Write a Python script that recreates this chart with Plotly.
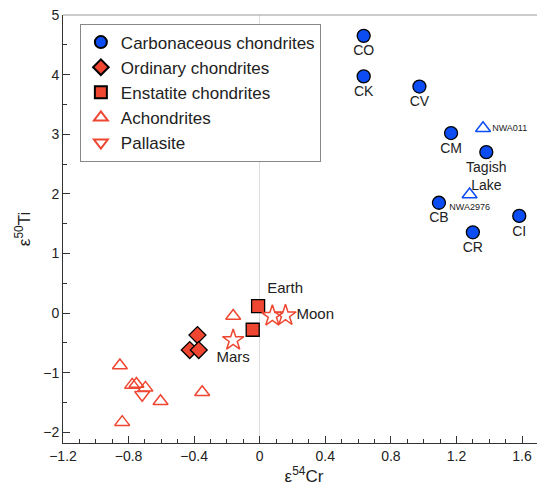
import plotly.graph_objects as go

BLUE = "#0B4DF2"
RED = "#EE4630"
FONT = "Liberation Sans, Arial, sans-serif"

# Carbonaceous chondrites
cc_x = [0.634, 0.634, 0.974, 1.167, 1.382, 1.093, 1.300, 1.583]
cc_y = [4.65, 3.97, 3.80, 3.02, 2.70, 1.85, 1.355, 1.63]
cc_names = ["CO", "CK", "CV", "CM", "Tagish<br>Lake", "CB", "CR", "CI"]

# Ordinary chondrites
oc_x = [-0.38, -0.427, -0.372]
oc_y = [-0.37, -0.62, -0.62]

# Enstatite chondrites (first one is Earth)
ec_x = [-0.01, -0.043]
ec_y = [0.117, -0.28]
earth_label = "Earth"

# Achondrites (red)
ach_x = [-0.162, -0.853, -0.778, -0.752, -0.697, -0.605, -0.351, -0.839]
ach_y = [-0.05, -0.88, -1.205, -1.19, -1.255, -1.48, -1.33, -1.83]

# Achondrites (blue, carbonaceous-like)
achb_x = [1.362, 1.280]
achb_y = [3.10, 1.99]
achb_names = ["NWA011", "NWA2976"]

# Pallasite
pal_x = [-0.717]
pal_y = [-1.37]

# Planetary bodies (stars)
mars_x = [-0.162]
mars_y = [-0.455]
moon_x = [0.077, 0.157]
moon_y = [-0.05, -0.04]

fig = go.Figure()

fig.add_trace(go.Scatter(
    x=cc_x, y=cc_y, mode="markers+text", name="Carbonaceous chondrites",
    text=cc_names, textposition="bottom center",
    textfont=dict(family=FONT, size=14, color="#222"),
    marker=dict(symbol="circle", size=13, color=BLUE, line=dict(color="black", width=1.3)),
))
fig.add_trace(go.Scatter(
    x=oc_x, y=oc_y, mode="markers", name="Ordinary chondrites",
    marker=dict(symbol="diamond", size=13, color=RED, line=dict(color="black", width=1.3)),
))
fig.add_trace(go.Scatter(
    x=ec_x, y=ec_y, mode="markers", name="Enstatite chondrites",
    marker=dict(symbol="square", size=13, color=RED, line=dict(color="black", width=1.3)),
))
fig.add_trace(go.Scatter(
    x=ec_x[:1], y=ec_y[:1], mode="markers+text", showlegend=False, hoverinfo="skip",
    text=[earth_label], textposition="top right",
    textfont=dict(family=FONT, size=15, color="#222"),
    marker=dict(size=13, color="rgba(0,0,0,0)"),
))
fig.add_trace(go.Scatter(
    x=ach_x, y=ach_y, mode="markers", name="Achondrites",
    marker=dict(symbol="triangle-up-open", size=13, color=RED, line=dict(color=RED, width=1.5)),
))
fig.add_trace(go.Scatter(
    x=pal_x, y=pal_y, mode="markers", name="Pallasite",
    marker=dict(symbol="triangle-down-open", size=13, color=RED, line=dict(color=RED, width=1.5)),
))
fig.add_trace(go.Scatter(
    x=achb_x, y=achb_y, mode="markers+text", showlegend=False,
    text=achb_names, textposition=["middle right", "bottom center"],
    textfont=dict(family=FONT, size=9, color="#222"),
    marker=dict(symbol="triangle-up-open", size=13, color=BLUE, line=dict(color=BLUE, width=1.5)),
))
fig.add_trace(go.Scatter(
    x=mars_x, y=mars_y, mode="markers+text", showlegend=False,
    text=["Mars"], textposition="bottom center",
    textfont=dict(family=FONT, size=15, color="#222"),
    marker=dict(symbol="star-open", size=16, color=RED, line=dict(color=RED, width=1.5)),
))
fig.add_trace(go.Scatter(
    x=moon_x, y=moon_y, mode="markers", showlegend=False,
    marker=dict(symbol="star-open", size=16, color=RED, line=dict(color=RED, width=1.5)),
))
fig.add_trace(go.Scatter(
    x=moon_x[1:], y=moon_y[1:], mode="markers+text", showlegend=False, hoverinfo="skip",
    text=["Moon"], textposition="middle right",
    textfont=dict(family=FONT, size=15, color="#222"),
    marker=dict(size=16, color="rgba(0,0,0,0)"),
))

axis_common = dict(
    showgrid=False, showline=True, linecolor="#333", linewidth=1,
    ticks="inside", ticklen=7, tickcolor="#333",
    tickfont=dict(family=FONT, size=14, color="#222"),
    ticklabeloverflow="allow", automargin=False,
)

fig.update_layout(
    width=537, height=486,
    margin=dict(l=55, r=0, t=7, b=51),
    plot_bgcolor="white", paper_bgcolor="white",
    font=dict(family=FONT, size=14, color="#222"),
    xaxis=dict(
        range=[-1.2, 1.74], tickvals=[-1.2, -0.8, -0.4, 0, 0.4, 0.8, 1.2, 1.6],
        ticktext=["\u22121.2", "\u22120.8", "\u22120.4", "0", "0.4", "0.8", "1.2", "1.6"],
        minor=dict(ticks="inside", ticklen=4, dtick=0.1, tick0=0, tickcolor="#333"),
        zeroline=True, zerolinecolor="#ddd", zerolinewidth=1,
        title=dict(text="\u03b5<sup>54</sup>Cr", font=dict(family=FONT, size=17), standoff=6),
        **axis_common,
    ),
    yaxis=dict(
        range=[-2.18, 5.0], tickvals=[-2, -1, 0, 1, 2, 3, 4, 5],
        ticktext=["\u22122", "\u22121", "0", "1", "2", "3", "4", "5"],
        minor=dict(ticks="inside", ticklen=4, dtick=0.5, tick0=0, tickcolor="#333"),
        zeroline=False,
        title=dict(text="\u03b5<sup>50</sup>Ti", font=dict(family=FONT, size=17), standoff=8),
        **axis_common,
    ),
    legend=dict(
        x=0.035, y=0.98, xanchor="left", yanchor="top",
        bgcolor="white", bordercolor="#888", borderwidth=1,
        font=dict(family=FONT, size=17, color="#222"),
        itemsizing="constant", tracegroupgap=0,
    ),
)

fig.add_shape(type="line", xref="paper", yref="paper", x0=0, x1=1, y0=1, y1=1,
              line=dict(color="#999", width=1))

fig.write_html("out.html")
